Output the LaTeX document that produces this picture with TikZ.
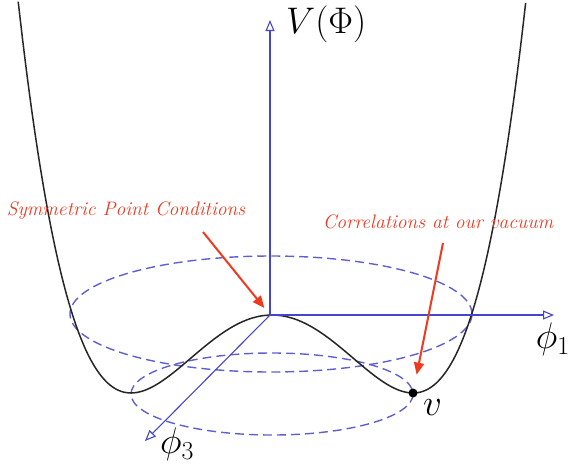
\RequirePackage{fix-cm}
\documentclass[tikz,border=0pt]{standalone}
\usepackage{tikz}
\usetikzlibrary{arrows.meta, positioning, calc}
\usepackage{amsmath}
\definecolor{axBlue}{RGB}{70,70,205}
\definecolor{ringBlue}{RGB}{95,95,210}
\definecolor{noteRed}{RGB}{238,58,32}

\begin{document}
\begin{tikzpicture}[x=1pt, y=-1pt,
            ax/.style={draw=axBlue, line width=1.1pt, -{Triangle[open, length=11pt, width=9pt]}},
            ring/.style={draw=ringBlue, line width=1.4pt, dash pattern=on 9pt off 5pt},
            pot/.style={draw=black!85, line width=1.5pt},
            note/.style={draw=noteRed, line width=2pt, -{Triangle[length=12pt, width=10pt]}},
            notetxt/.style={text=noteRed, font=\fontsize{19.5}{22}\selectfont\itshape, inner sep=0pt},
            lab/.style={font=\fontsize{37}{42}\selectfont, inner sep=0pt},
            dot/.style={circle, fill=black, minimum size=9pt, inner sep=0pt}]
            \useasboundingbox (0,0) rectangle (573,464);
            % axes
            \coordinate (O) at (270,315);
            \coordinate (vtip) at (270,20);
            \coordinate (p1tip) at (554,315);
            \coordinate (p3tip) at (145,441);
            % rings of minima
            \draw[ring] (271,314) ellipse [x radius=201, y radius=58];
            \draw[ring] (272,394) ellipse [x radius=141, y radius=41];
            % potential
            \draw[pot] plot[domain=-1.8:1.8, samples=120, smooth]
                ({272+141*\x}, {315+78*(2*\x*\x-\x*\x*\x*\x)});
            \draw[ax] (O) -- (vtip);
            \draw[ax] (O) -- (p1tip);
            \draw[ax] (O) -- (p3tip);
            \node[lab, anchor=west] (vlab) at (286,24) {$V(\Phi)$};
            \node[lab, anchor=north east] (p1lab) at (570,323) {$\phi_1$};
            \node[lab, anchor=north west] (p3lab) at (160,428) {$\phi_3$};
            \node[dot] (vac) at (413,393) {};
            \node[lab, anchor=north west] (vaclab) at (423,399) {$v$};
            % notes
            \node[notetxt] (sym) at (126,211) {Symmetric Point Conditions};
            \node[notetxt] (corr) at (438,222) {Correlations at our vacuum};
            \coordinate (symtail) at (203,232);
            \coordinate (corrtail) at (443,243);
            \draw[note, shorten >=9pt] (symtail) -- (O);
            \draw[note, shorten >=14pt] (corrtail) -- (vac);
        \end{tikzpicture}
\end{document}
